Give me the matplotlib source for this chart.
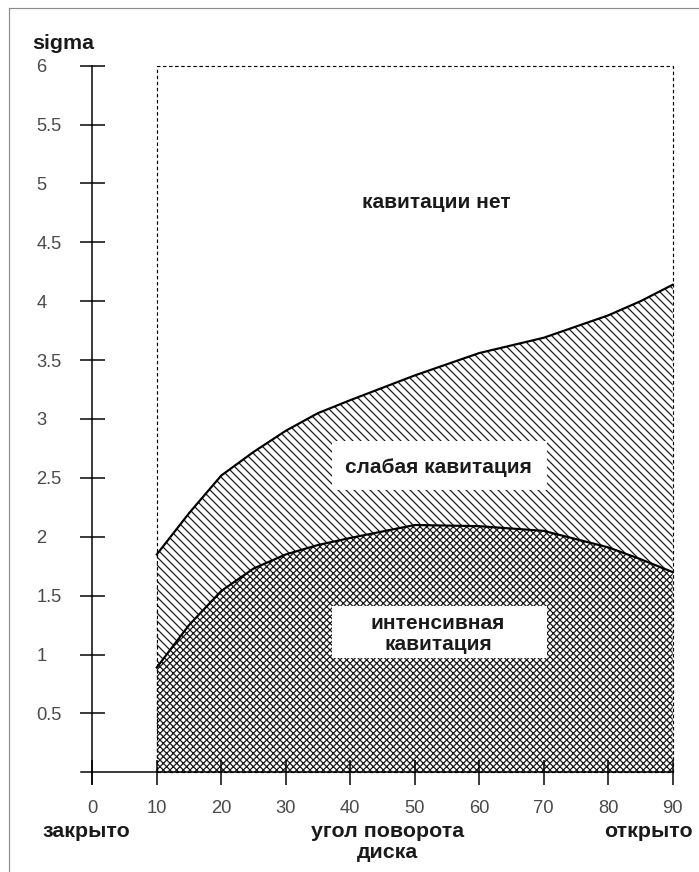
import matplotlib
matplotlib.use('Agg')
from matplotlib import pyplot as plt
from matplotlib.patches import Rectangle
from matplotlib.lines import Line2D

# disc angle (deg) and sigma at the two boundaries
angle = [10, 15, 20, 25, 30, 35, 40, 50, 60, 70, 80, 85, 90]
sigma_upper = [1.85, 2.20, 2.52, 2.72, 2.90, 3.05, 3.16, 3.37, 3.56, 3.69, 3.88, 4.00, 4.14]
sigma_lower = [0.89, 1.25, 1.54, 1.73, 1.85, 1.93, 1.99, 2.10, 2.09, 2.05, 1.91, 1.81, 1.70]

xticks = [0, 10, 20, 30, 40, 50, 60, 70, 80, 90]
yticks = [0.5, 1, 1.5, 2, 2.5, 3, 3.5, 4, 4.5, 5, 5.5, 6]
ytick_labels = ['0.5', '1', '1.5', '2', '2.5', '3', '3.5', '4', '4.5', '5', '5.5', '6']

tick_font = 'Liberation Sans'
bold_font = 'Liberation Sans'

plt.rcParams['hatch.linewidth'] = 0.75

dpi = 120
fig = plt.figure(figsize=(699/dpi, 872/dpi), dpi=dpi)
ax = fig.add_axes([0.02132, 0.00631, 0.97797, 0.97236])
ax.set_xlim(-12, 94)
ax.set_ylim(-0.8, 6.4)

# frame lines of the picture
fig.add_artist(Line2D([9/699, 1], [1 - 8/872, 1 - 8/872], color='#8a8a8a', lw=0.7, transform=fig.transFigure))
fig.add_artist(Line2D([9/699, 9/699], [0, 1 - 8/872], color='#8a8a8a', lw=0.7, transform=fig.transFigure))

# zones
ax.fill_between(angle, sigma_lower, sigma_upper, facecolor='white', edgecolor='#1a1a1a',
                hatch='\\' * 5, linewidth=0, zorder=1)
ax.fill_between(angle, 0, sigma_lower, facecolor='white', edgecolor='#1a1a1a',
                hatch='x' * 6, linewidth=0, zorder=1)
ax.plot(angle, sigma_upper, color='black', lw=1.3, zorder=3)
ax.plot(angle, sigma_lower, color='black', lw=1.3, zorder=3)

# dashed working range
ax.add_patch(Rectangle((10, 0), 80, 6, fill=False, ls=(0, (3, 2.2)), lw=0.7, edgecolor='black', zorder=4))

# white label boxes
ax.add_patch(Rectangle((37.2, 2.40), 33.3, 0.41, facecolor='white', edgecolor='none', zorder=5))
ax.add_patch(Rectangle((37.2, 0.97), 33.3, 0.44, facecolor='white', edgecolor='none', zorder=5))

txt = dict(family=bold_font, fontweight='bold', fontsize=12.5, color='#1a1a1a', ha='center', va='center', zorder=6)
ax.text(53.3, 4.835, 'кавитации нет', **txt)
ax.text(53.75, 2.585, 'слабая кавитация', **txt)
ax.text(53.6, 1.175, 'интенсивная\nкавитация', linespacing=1.12, **txt)

# axes through the origin
for s in ['top', 'right']:
    ax.spines[s].set_visible(False)
ax.spines['left'].set_position(('data', 0))
ax.spines['bottom'].set_position(('data', 0))
ax.spines['left'].set_bounds(-0.1, 6)
ax.spines['bottom'].set_bounds(-1.7, 90)
ax.spines['left'].set_linewidth(0.9)
ax.spines['bottom'].set_linewidth(0.9)

ax.set_xticks(xticks)
ax.set_yticks(yticks)
ax.set_yticklabels(ytick_labels)
ax.tick_params(axis='both', direction='inout', length=15, width=0.9, color='black',
               labelsize=11, labelcolor='#4a4a4a')
ax.tick_params(axis='x', pad=9)
ax.tick_params(axis='y', pad=26)
for lab in ax.get_yticklabels():
    lab.set_horizontalalignment('left')
    lab.set_family(tick_font)
for lab in ax.get_xticklabels():
    lab.set_family(tick_font)

lbl = dict(family=bold_font, fontweight='bold', fontsize=12.8, color='#1a1a1a', clip_on=False)
ax.text(-9.3, 6.14, 'sigma', ha='left', va='baseline', **lbl)
ax.text(-0.85, -0.50, 'закрыто', ha='center', va='center', **lbl)
ax.text(86.3, -0.50, 'открыто', ha='center', va='center', **lbl)
ax.text(45.8, -0.59, 'угол поворота\nдиска', ha='center', va='center', linespacing=1.1, **lbl)

fig.savefig('out.png', dpi=dpi)
